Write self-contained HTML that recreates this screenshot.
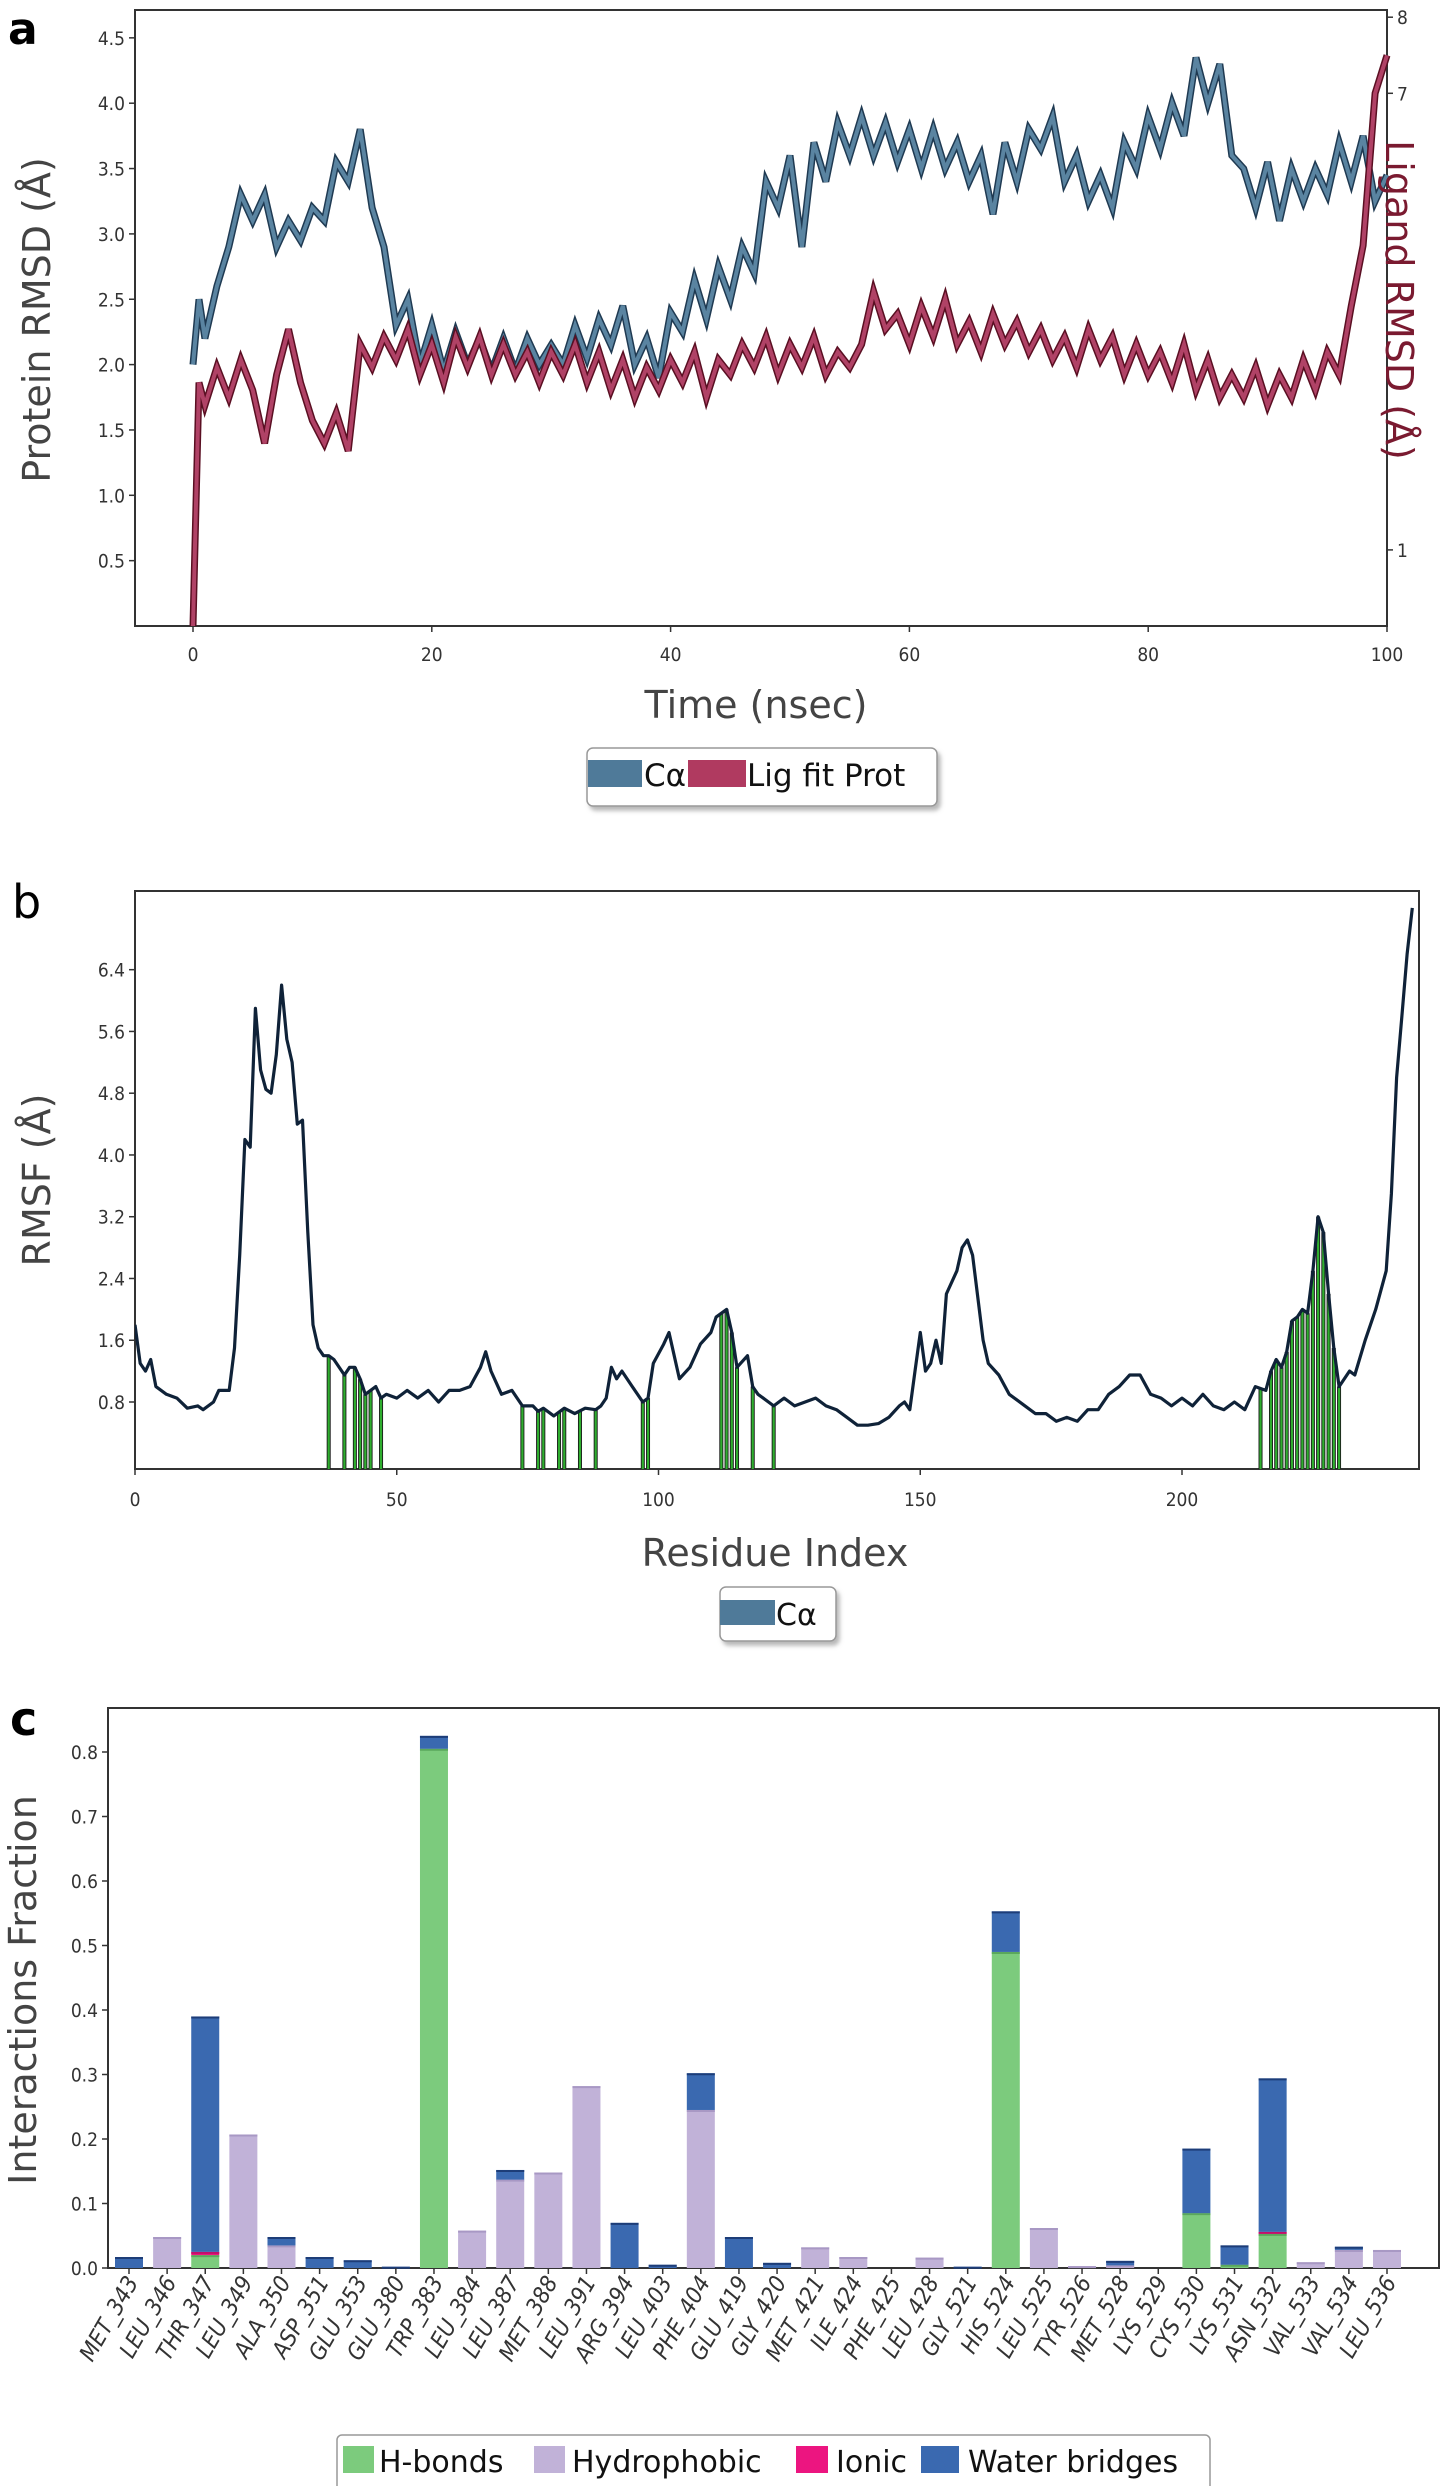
<!DOCTYPE html>
<html><head><meta charset="utf-8"><style>
html,body{margin:0;padding:0;background:#fff;}
svg{display:block;font-family:"DejaVu Sans","Liberation Sans",sans-serif;}
.tk{font-family:"DejaVu Sans Condensed","Liberation Sans Narrow","Liberation Sans",sans-serif;font-size:19px;fill:#333;}
.ttl{fill:#444;font-size:38px;}
</style></head><body>
<svg id="fig" width="1441" height="2486" viewBox="0 0 1441 2486">
<defs><filter id="sh" x="-10%" y="-10%" width="130%" height="140%"><feDropShadow dx="3" dy="4" stdDeviation="2" flood-color="#888" flood-opacity="0.6"/></filter></defs>
<text x="8" y="44" font-size="44" font-weight="bold" fill="#000">a</text>
<text x="12" y="918" font-size="46" fill="#000">b</text>
<text x="10" y="1735" font-size="46" font-weight="bold" fill="#000">c</text>
<g id="ga"></g>
<g id="gb"></g>
<g id="gc"></g>
</svg>
<script>
// ---------- Panel a data ----------
const timeNs = [0,0.5,1,2,3,4,5,6,7,8,9,10,11,12,13,14,15,16,17,18,19,20,21,22,23,24,25,26,27,28,29,30,31,32,33,34,35,36,37,38,39,40,41,42,43,44,45,46,47,48,49,50,51,52,53,54,55,56,57,58,59,60,61,62,63,64,65,66,67,68,69,70,71,72,73,74,75,76,77,78,79,80,81,82,83,84,85,86,87,88,89,90,91,92,93,94,95,96,97,98,99,100];
const caRmsd = [2.0,2.5,2.2,2.6,2.9,3.3,3.1,3.3,2.9,3.1,2.95,3.2,3.1,3.55,3.4,3.8,3.2,2.9,2.3,2.5,2.0,2.3,1.95,2.25,2.0,2.2,1.95,2.2,1.95,2.2,2.0,2.15,2.0,2.3,2.05,2.35,2.15,2.45,2.0,2.2,1.9,2.4,2.25,2.65,2.35,2.75,2.5,2.9,2.7,3.4,3.2,3.6,2.9,3.7,3.4,3.85,3.6,3.9,3.6,3.85,3.55,3.8,3.5,3.8,3.5,3.7,3.4,3.6,3.15,3.7,3.4,3.8,3.65,3.9,3.4,3.6,3.25,3.45,3.2,3.7,3.5,3.9,3.65,4.0,3.75,4.35,4.0,4.3,3.6,3.5,3.2,3.55,3.1,3.5,3.25,3.5,3.3,3.7,3.4,3.75,3.25,3.45];
const ligRmsd = [0,3.2,2.9,3.4,3.0,3.5,3.1,2.4,3.3,3.9,3.2,2.7,2.4,2.8,2.3,3.7,3.4,3.8,3.5,3.9,3.3,3.7,3.2,3.8,3.4,3.8,3.3,3.7,3.3,3.6,3.2,3.6,3.3,3.7,3.2,3.6,3.1,3.5,3.0,3.4,3.1,3.5,3.2,3.6,3.0,3.5,3.3,3.7,3.4,3.8,3.3,3.7,3.4,3.8,3.3,3.6,3.4,3.7,4.4,3.9,4.1,3.7,4.2,3.8,4.3,3.7,4.0,3.6,4.1,3.7,4.0,3.6,3.9,3.5,3.8,3.4,3.9,3.5,3.8,3.3,3.7,3.3,3.6,3.2,3.7,3.1,3.5,3.0,3.3,3.0,3.4,2.9,3.3,3.0,3.5,3.1,3.6,3.3,4.2,5.0,7.0,7.5];
const aLeftTicks = [0.5,1.0,1.5,2.0,2.5,3.0,3.5,4.0,4.5];
const aRightTicks = [1,7,8];
const aXTicks = [0,20,40,60,80,100];
// ---------- Panel b data ----------
const resIdx = [0,1,2,3,4,6,8,10,12,13,15,16,18,19,20,21,22,23,24,25,26,27,28,29,30,31,32,33,34,35,36,37,38,40,41,42,43,44,45,46,47,48,50,52,54,56,58,60,62,64,66,67,68,70,72,74,76,77,78,80,82,84,86,88,89,90,91,92,93,95,97,98,99,101,102,104,106,108,110,111,113,114,115,117,118,119,120,122,124,126,128,130,132,134,136,138,140,142,144,146,147,148,149,150,151,152,153,154,155,157,158,159,160,162,163,165,167,170,172,174,176,178,180,182,184,186,188,190,192,194,196,198,200,202,204,206,208,210,212,214,216,217,218,219,220,221,222,223,224,225,226,227,228,229,230,232,233,235,237,239,240,241,242,243,244];
const rmsf = [1.8,1.3,1.2,1.35,1.0,0.9,0.85,0.72,0.75,0.7,0.8,0.95,0.95,1.5,2.7,4.2,4.1,5.9,5.1,4.85,4.8,5.3,6.2,5.5,5.2,4.4,4.45,3.0,1.8,1.5,1.4,1.4,1.35,1.15,1.25,1.25,1.1,0.9,0.95,1.0,0.85,0.9,0.85,0.95,0.85,0.95,0.8,0.95,0.95,1.0,1.25,1.45,1.2,0.9,0.95,0.75,0.75,0.68,0.72,0.62,0.72,0.65,0.72,0.7,0.75,0.85,1.25,1.1,1.2,1.0,0.8,0.85,1.3,1.55,1.7,1.1,1.25,1.55,1.7,1.9,2.0,1.7,1.25,1.4,1.0,0.9,0.85,0.75,0.85,0.75,0.8,0.85,0.75,0.7,0.6,0.5,0.5,0.52,0.6,0.75,0.8,0.7,1.2,1.7,1.2,1.3,1.6,1.3,2.2,2.5,2.8,2.9,2.7,1.6,1.3,1.15,0.9,0.75,0.65,0.65,0.55,0.6,0.55,0.7,0.7,0.9,1.0,1.15,1.15,0.9,0.85,0.75,0.85,0.75,0.9,0.75,0.7,0.8,0.7,1.0,0.95,1.2,1.35,1.25,1.45,1.85,1.9,2.0,1.95,2.5,3.2,3.0,2.2,1.5,1.0,1.2,1.15,1.6,2.0,2.5,3.5,5.0,5.8,6.6,7.2];
const contactRes = [37,40,42,43,44,45,47,74,77,78,81,82,85,88,97,98,112,113,114,115,118,122,215,217,218,219,220,221,222,223,224,225,226,227,228,229,230];
const bYTicks = [0.8,1.6,2.4,3.2,4.0,4.8,5.6,6.4];
const bXTicks = [0,50,100,150,200];
// ---------- Panel c data ----------
const residues = ["MET_343","LEU_346","THR_347","LEU_349","ALA_350","ASP_351","GLU_353","GLU_380","TRP_383","LEU_384","LEU_387","MET_388","LEU_391","ARG_394","LEU_403","PHE_404","GLU_419","GLY_420","MET_421","ILE_424","PHE_425","LEU_428","GLY_521","HIS_524","LEU_525","TYR_526","MET_528","LYS_529","CYS_530","LYS_531","ASN_532","VAL_533","VAL_534","LEU_536"];
const hbonds =      [0,0,0.02,0,0,0,0,0,0.805,0,0,0,0,0,0,0,0,0,0,0,0,0,0,0.49,0,0,0,0,0.085,0.005,0.053,0,0,0];
const hydrophobic = [0,0.048,0,0.207,0.035,0,0,0,0,0.058,0.137,0.148,0.282,0,0,0.245,0,0,0.032,0.017,0,0.016,0,0,0.062,0.003,0.004,0,0,0,0,0.009,0.028,0.028];
const ionic =       [0,0,0.005,0,0,0,0,0,0,0,0,0,0,0,0,0,0,0,0,0,0,0,0,0,0,0,0,0,0,0,0.003,0,0,0];
const waterBridges =[0.017,0,0.365,0,0.013,0.017,0.012,0.002,0.02,0,0.015,0,0,0.07,0.005,0.057,0.048,0.008,0,0,0,0,0.002,0.063,0,0,0.007,0,0.1,0.03,0.238,0,0.005,0];
const cYTicks = [0.0,0.1,0.2,0.3,0.4,0.5,0.6,0.7,0.8];

const NS="http://www.w3.org/2000/svg";
function mk(parent,tag,attrs,text){const e=document.createElementNS(NS,tag);for(const k in attrs)e.setAttribute(k,attrs[k]);if(text!==undefined)e.textContent=text;parent.appendChild(e);return e;}

// ================= Panel A =================
(function(){
const g=document.getElementById('ga');
const L=135,R=1387,T=10,B=626;
const xA=t=>193+(t-0)*(R-193)/100;
const yL=v=>626-v*130.7;
const yR=v=>626-v*76.1;
let e;
e=mk(g,'rect',{x:L,y:T,width:R-L,height:B-T,fill:'#fff',stroke:'#333','stroke-width':2});

let d='';timeNs.forEach((t,i)=>{d+=(i?'L':'M')+xA(t).toFixed(1)+' '+yL(caRmsd[i]).toFixed(1);});
e=mk(g,'path',{d:d,fill:'none',stroke:'#1f3a52','stroke-width':7,'stroke-linejoin':'miter'});

e=mk(g,'path',{d:d,fill:'none',stroke:'#5a84a1','stroke-width':4,'stroke-linejoin':'miter'});

d='';timeNs.forEach((t,i)=>{d+=(i?'L':'M')+xA(t).toFixed(1)+' '+yR(ligRmsd[i]).toFixed(1);});
e=mk(g,'path',{d:d,fill:'none',stroke:'#5a0f22','stroke-width':7,'stroke-linejoin':'miter'});

e=mk(g,'path',{d:d,fill:'none',stroke:'#b04266','stroke-width':4,'stroke-linejoin':'miter'});

aLeftTicks.forEach(v=>{
  mk(g,'line',{x1:L-6,x2:L,y1:yL(v),y2:yL(v),stroke:'#333','stroke-width':1.5});
  e=mk(g,'text',{x:L-10,y:yL(v)+7,'text-anchor':'end',class:'tk'},v.toFixed(1));
  
});
aRightTicks.forEach(v=>{
  mk(g,'line',{x1:R,x2:R+6,y1:yR(v),y2:yR(v),stroke:'#333','stroke-width':1.5});
  e=mk(g,'text',{x:R+10,y:yR(v)+7,'text-anchor':'start',class:'tk'},String(v));
  
});
aXTicks.forEach(v=>{
  mk(g,'line',{x1:xA(v),x2:xA(v),y1:B,y2:B+6,stroke:'#333','stroke-width':1.5});
  e=mk(g,'text',{x:xA(v),y:B+35,'text-anchor':'middle',class:'tk'},String(v));
  
});
e=mk(g,'text',{x:756,y:718,'text-anchor':'middle',class:'ttl'},'Time (nsec)');

e=mk(g,'text',{x:0,y:0,'text-anchor':'middle',class:'ttl',transform:'translate(50,320) rotate(-90)'},'Protein RMSD (Å)');

e=mk(g,'text',{x:0,y:0,'text-anchor':'middle',class:'ttl',fill:'#7a1a30',style:'fill:#7a1a30',transform:'translate(1386,300) rotate(90)'},'Ligand RMSD (Å)');

const lg=mk(g,'g',{});

mk(lg,'rect',{x:587,y:748,width:350,height:58,rx:6,fill:'#fff',stroke:'#999','stroke-width':1.5,filter:'url(#sh)'});
mk(lg,'rect',{x:588,y:760,width:54,height:27,fill:'#4f7a99'});
mk(lg,'text',{x:644,y:786,'font-size':31,fill:'#111'},'Cα');
mk(lg,'rect',{x:688,y:760,width:58,height:27,fill:'#b03a60'});
mk(lg,'text',{x:747,y:786,'font-size':31,fill:'#111'},'Lig fit Prot');
})();

// ================= Panel B =================
(function(){
const g=document.getElementById('gb');
const L=135,R=1419,T=891,B=1469;
const xB=r=>135+r*5.235;
const yB=v=>1402-(v-0.8)*77.2;
let e;
e=mk(g,'rect',{x:L,y:T,width:R-L,height:B-T,fill:'#fff',stroke:'#333','stroke-width':2});

function interp(r){for(let i=1;i<resIdx.length;i++){if(resIdx[i]>=r){const a=resIdx[i-1],b=resIdx[i];const f=(r-a)/(b-a||1);return rmsf[i-1]+f*(rmsf[i]-rmsf[i-1]);}}return rmsf[rmsf.length-1];}
contactRes.forEach(r=>{
  e=mk(g,'line',{x1:xB(r),x2:xB(r),y1:B,y2:yB(interp(r)),stroke:'#1a1a1a','stroke-width':4});
  
  e=mk(g,'line',{x1:xB(r),x2:xB(r),y1:B,y2:yB(interp(r)),stroke:'#2fae2f','stroke-width':2.2});
  
});
const cp=mk(g,'clipPath',{id:'clipb'});mk(cp,'rect',{x:L,y:T,width:R-L,height:B-T});
let d='';resIdx.forEach((r,i)=>{d+=(i?'L':'M')+xB(r).toFixed(1)+' '+yB(rmsf[i]).toFixed(1);});
e=mk(g,'path',{d:d,fill:'none',stroke:'#0f2238','stroke-width':3.2,'stroke-linejoin':'round','clip-path':'url(#clipb)'});

bYTicks.forEach(v=>{
  mk(g,'line',{x1:L-6,x2:L,y1:yB(v),y2:yB(v),stroke:'#333','stroke-width':1.5});
  e=mk(g,'text',{x:L-10,y:yB(v)+7,'text-anchor':'end',class:'tk'},v.toFixed(1));
  
});
bXTicks.forEach(v=>{
  mk(g,'line',{x1:xB(v),x2:xB(v),y1:B,y2:B+6,stroke:'#333','stroke-width':1.5});
  e=mk(g,'text',{x:xB(v),y:B+37,'text-anchor':'middle',class:'tk'},String(v));
  
});
e=mk(g,'text',{x:775,y:1566,'text-anchor':'middle',class:'ttl'},'Residue Index');

e=mk(g,'text',{x:0,y:0,'text-anchor':'middle',class:'ttl',transform:'translate(50,1180) rotate(-90)'},'RMSF (Å)');

const lg=mk(g,'g',{});

mk(lg,'rect',{x:720,y:1587,width:116,height:54,rx:6,fill:'#fff',stroke:'#999','stroke-width':1.5,filter:'url(#sh)'});
mk(lg,'rect',{x:720,y:1600,width:55,height:25,fill:'#4f7a99'});
mk(lg,'text',{x:776,y:1625,'font-size':30,fill:'#111'},'Cα');
})();

// ================= Panel C =================
(function(){
const g=document.getElementById('gc');
const L=108,R=1439,T=1708,B=2268;
const xC=i=>129+i*((1387-129)/33);
const yC=v=>2268-v*645;
const bw=28;
let e;
e=mk(g,'rect',{x:L,y:T,width:R-L,height:B-T,fill:'#fff',stroke:'#333','stroke-width':2});

const series=[[hbonds,'#7ccb7d','#5aa85c','bar-hbonds'],[hydrophobic,'#c1b2d8','#a898c4','bar-hydrophobic'],[ionic,'#ec1580','#c0106a','bar-ionic'],[waterBridges,'#3a69b0','#1d3d78','bar-water-bridges']];
residues.forEach((name,i)=>{
  let base=0;
  series.forEach(s=>{
    const v=s[0][i];
    if(v>0){
      e=mk(g,'rect',{x:xC(i)-bw/2,y:yC(base+v),width:bw,height:Math.max(yC(base)-yC(base+v),0.5),fill:s[1]});
      
      mk(g,'line',{x1:xC(i)-bw/2,x2:xC(i)+bw/2,y1:yC(base+v)+1,y2:yC(base+v)+1,stroke:s[2],'stroke-width':2});
    }
    base+=v;
  });
  mk(g,'line',{x1:xC(i),x2:xC(i),y1:B,y2:B+6,stroke:'#333','stroke-width':1.5});
  e=mk(g,'text',{x:0,y:0,'text-anchor':'end',class:'tk','font-size':23,'font-style':'italic',style:'font-size:23px',transform:'translate('+(xC(i)+10)+','+(B+14)+') rotate(-60)'},name);
  
});
cYTicks.forEach(v=>{
  mk(g,'line',{x1:L-6,x2:L,y1:yC(v),y2:yC(v),stroke:'#333','stroke-width':1.5});
  e=mk(g,'text',{x:L-10,y:yC(v)+7,'text-anchor':'end',class:'tk'},v.toFixed(1));
  
});
e=mk(g,'text',{x:0,y:0,'text-anchor':'middle',class:'ttl','font-size':36,transform:'translate(36,1990) rotate(-90)'},'Interactions Fraction');

const lg=mk(g,'g',{});

mk(lg,'rect',{x:337,y:2435,width:873,height:60,rx:5,fill:'#fff',stroke:'#999','stroke-width':1.5});
mk(lg,'rect',{x:343,y:2446,width:31,height:27,fill:'#7ccb7d'});
mk(lg,'text',{x:379,y:2472,'font-size':30,fill:'#111'},'H-bonds');
mk(lg,'rect',{x:534,y:2446,width:31,height:27,fill:'#c1b2d8'});
mk(lg,'text',{x:572,y:2472,'font-size':30,fill:'#111'},'Hydrophobic');
mk(lg,'rect',{x:796,y:2446,width:32,height:27,fill:'#ec1580'});
mk(lg,'text',{x:836,y:2472,'font-size':30,fill:'#111'},'Ionic');
mk(lg,'rect',{x:921,y:2446,width:38,height:27,fill:'#3a69b0'});
mk(lg,'text',{x:968,y:2472,'font-size':30,fill:'#111'},'Water bridges');
})();
</script>
</body></html>
